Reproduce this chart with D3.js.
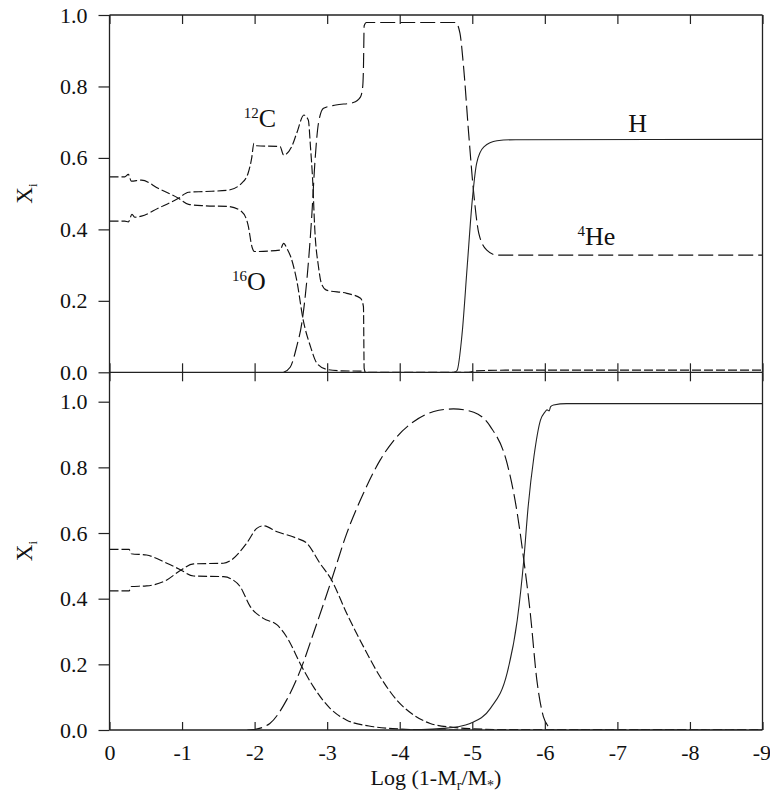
<!DOCTYPE html>
<html>
<head>
<meta charset="utf-8">
<script src="https://cdn.jsdelivr.net/npm/d3@7"></script>
<style>
  html, body { margin: 0; padding: 0; background: #fff; }
  svg { display: block; }
  text { font-family: "Liberation Serif", "Times New Roman", serif; fill: #111; }
</style>
</head>
<body>
<svg id="chart" width="770" height="797"></svg>
<script>
// ---------------- data (x = Log(1-Mr/M*), y = mass fraction X_i) ----------------
const xTicks = [0, -1, -2, -3, -4, -5, -6, -7, -8, -9];
const yTicks = [0, 0.2, 0.4, 0.6, 0.8, 1.0];

// Top panel
const topO = [[0,0.547],[-0.21,0.547],[-0.26,0.554],[-0.30,0.535],[-0.44,0.538],[-0.67,0.515],[-0.95,0.487],[-1.09,0.470],[-1.32,0.466],[-1.64,0.464],[-1.82,0.450],[-1.91,0.412],[-1.965,0.350],[-2.00,0.338],[-2.35,0.342],[-2.40,0.361],[-2.45,0.345],[-2.50,0.322],[-2.58,0.258],[-2.67,0.146],[-2.77,0.072],[-2.86,0.025],[-3.00,0.008],[-3.20,0.004],[-3.50,0.003],[-3.52,0]];
const topC = [[0,0.423],[-0.21,0.423],[-0.26,0.421],[-0.31,0.442],[-0.35,0.434],[-0.44,0.437],[-0.67,0.459],[-0.95,0.487],[-1.09,0.504],[-1.32,0.506],[-1.64,0.510],[-1.82,0.529],[-1.91,0.557],[-1.96,0.600],[-1.99,0.641],[-2.03,0.634],[-2.35,0.632],[-2.40,0.608],[-2.51,0.631],[-2.58,0.669],[-2.68,0.720],[-2.74,0.706],[-2.77,0.631],[-2.80,0.538],[-2.83,0.398],[-2.88,0.296],[-2.92,0.249],[-2.99,0.230],[-3.27,0.221],[-3.46,0.207],[-3.50,0.184],[-3.51,0.010],[-3.53,0],[-4.95,0],[-5.05,0.004],[-5.50,0.006],[-9,0.006]];
const topHe = [[-2.40,0],[-2.49,0.014],[-2.58,0.072],[-2.65,0.137],[-2.72,0.258],[-2.79,0.445],[-2.83,0.585],[-2.88,0.697],[-2.95,0.739],[-3.12,0.748],[-3.36,0.755],[-3.46,0.771],[-3.49,0.800],[-3.50,0.850],[-3.51,0.970],[-3.54,0.979],[-4.77,0.979],[-4.83,0.949],[-4.88,0.855],[-4.95,0.669],[-5.02,0.501],[-5.09,0.389],[-5.20,0.342],[-5.34,0.328],[-9,0.328]];
const topH = [[-4.75,0],[-4.79,0.005],[-4.86,0.109],[-4.93,0.296],[-5.00,0.482],[-5.06,0.585],[-5.16,0.631],[-5.34,0.648],[-5.60,0.651],[-9,0.652]];

// Bottom panel
const botO = [[0,0.550],[-0.27,0.550],[-0.30,0.537],[-0.51,0.533],[-0.79,0.508],[-0.97,0.489],[-1.16,0.469],[-1.57,0.467],[-1.68,0.460],[-1.80,0.437],[-1.94,0.376],[-2.12,0.340],[-2.31,0.320],[-2.44,0.284],[-2.65,0.193],[-2.81,0.132],[-3.04,0.066],[-3.27,0.030],[-3.64,0.010],[-4.00,0.003],[-4.50,0],[-9,0]];
const botC = [[0,0.424],[-0.27,0.424],[-0.30,0.437],[-0.51,0.439],[-0.79,0.457],[-0.97,0.485],[-1.16,0.506],[-1.57,0.508],[-1.66,0.515],[-1.89,0.569],[-2.03,0.614],[-2.12,0.622],[-2.31,0.604],[-2.58,0.584],[-2.72,0.569],[-2.90,0.508],[-3.06,0.457],[-3.27,0.355],[-3.50,0.254],[-3.73,0.162],[-3.96,0.091],[-4.19,0.046],[-4.42,0.020],[-4.74,0.008],[-5.00,0.004],[-5.50,0.001],[-9,0]];
const botHe = [[-1.90,0],[-1.98,0.001],[-2.21,0.020],[-2.44,0.091],[-2.65,0.193],[-2.81,0.294],[-3.06,0.457],[-3.27,0.599],[-3.50,0.721],[-3.73,0.822],[-3.96,0.893],[-4.19,0.939],[-4.47,0.970],[-4.74,0.978],[-5.02,0.968],[-5.25,0.924],[-5.48,0.812],[-5.62,0.660],[-5.71,0.518],[-5.80,0.355],[-5.89,0.152],[-5.98,0.041],[-6.05,0.010],[-6.10,0],[-9,0]];
const botH = [[-4.00,0],[-4.30,0.001],[-4.60,0.005],[-4.80,0.010],[-4.97,0.020],[-5.25,0.066],[-5.48,0.173],[-5.62,0.335],[-5.71,0.518],[-5.77,0.680],[-5.85,0.833],[-5.94,0.944],[-6.00,0.968],[-6.03,0.975],[-6.06,0.972],[-6.08,0.985],[-6.12,0.990],[-6.30,0.994],[-9,0.994]];

// Annotations in the top panel: [superscript, symbol, x, y]
const labels = [["12","C",-1.85,0.687],["16","O",-1.69,0.230],["","H",-7.15,0.673],["4","He",-6.45,0.356]];

// ---------------- drawing ----------------
const svg = d3.select("#chart");
const L = 109.5, R = 762.5;
const x = d3.scaleLinear().domain([0, -9]).range([L, R]);
const yTop = d3.scaleLinear().domain([0, 1]).range([372.3, 15]);
const yBot = d3.scaleLinear().domain([0, 1]).range([730, 401.7]);
const midY = 372.3, topY = 15, botY = 730;
const FONT = '"Liberation Serif", "Times New Roman", serif';

const defs = svg.append("defs");
defs.append("clipPath").attr("id","clipTop").append("rect").attr("x",L).attr("y",topY).attr("width",R-L).attr("height",midY-topY);
defs.append("clipPath").attr("id","clipBot").append("rect").attr("x",L).attr("y",midY).attr("width",R-L).attr("height",botY-midY);

const styles = {
  CO: {dash: "9,3", w: 1.15, c: "#111"},
  He: {dash: "15,5", w: 1.15, c: "#111"},
  H:  {dash: null, w: 1.1, c: "#222"}
};

function drawLine(data, y, st, clip) {
  const line = d3.line().x(d => x(d[0])).y(d => y(d[1])).curve(d3.curveMonotoneX);
  svg.append("path").attr("d", line(data)).attr("fill","none")
    .attr("stroke", st.c).attr("stroke-width", st.w)
    .attr("stroke-dasharray", st.dash)
    .attr("clip-path", `url(#${clip})`);
}

drawLine(topO, yTop, styles.CO, "clipTop");
drawLine(topC, yTop, styles.CO, "clipTop");
drawLine(topHe, yTop, styles.He, "clipTop");
drawLine(topH, yTop, styles.H, "clipTop");

drawLine(botO, yBot, styles.CO, "clipBot");
drawLine(botC, yBot, styles.CO, "clipBot");
drawLine(botHe, yBot, styles.He, "clipBot");
drawLine(botH, yBot, styles.H, "clipBot");

// axes
const axColor = "#222";
function styleAxis(g) {
  g.select(".domain").remove();
  g.selectAll("line").attr("stroke", axColor).attr("stroke-width", 1.2);
  g.selectAll("text").attr("font-size", 22).attr("fill", "#111").attr("font-family", FONT);
}
// x ticks (inward) on all horizontal frame lines
svg.append("g").attr("transform", `translate(0,${topY})`)
  .call(d3.axisTop(x).tickValues(xTicks).tickSize(-9).tickFormat("")).call(styleAxis);
svg.append("g").attr("transform", `translate(0,${midY})`)
  .call(d3.axisBottom(x).tickValues(xTicks).tickSize(-9).tickFormat("")).call(styleAxis);
svg.append("g").attr("transform", `translate(0,${midY})`)
  .call(d3.axisTop(x).tickValues(xTicks).tickSize(-9).tickFormat("")).call(styleAxis);
const xAxisG = svg.append("g").attr("transform", `translate(0,${botY})`)
  .call(d3.axisBottom(x).tickValues(xTicks).tickSize(-8).tickPadding(14).tickFormat(d => String(d))).call(styleAxis);
// keep the last label inside the window
xAxisG.selectAll(".tick text").filter(d => d === -9).attr("text-anchor", "end").attr("dx", 8);

// y ticks (outward)
const fmt = d3.format(".1f");
svg.append("g").attr("transform", `translate(${L},0)`)
  .call(d3.axisLeft(yTop).tickValues(yTicks).tickSize(11).tickPadding(11).tickFormat(fmt)).call(styleAxis);
svg.append("g").attr("transform", `translate(${L},0)`)
  .call(d3.axisLeft(yBot).tickValues(yTicks).tickSize(11).tickPadding(11).tickFormat(fmt)).call(styleAxis);

// frame
const frame = svg.append("g").attr("stroke", axColor).attr("stroke-width", 1.3).attr("fill", "none");
frame.append("line").attr("x1", L).attr("x2", R).attr("y1", topY).attr("y2", topY);
frame.append("line").attr("x1", L).attr("x2", R).attr("y1", midY).attr("y2", midY);
frame.append("line").attr("x1", L).attr("x2", R).attr("y1", botY).attr("y2", botY);
frame.append("line").attr("x1", L).attr("x2", L).attr("y1", topY).attr("y2", botY);
frame.append("line").attr("x1", R).attr("x2", R).attr("y1", topY).attr("y2", botY);

// y labels
function yLabel(cy) {
  const t = svg.append("text").attr("transform", `translate(32,${cy}) rotate(-90)`)
    .attr("text-anchor", "middle").attr("font-size", 23);
  t.append("tspan").text("X");
  t.append("tspan").attr("font-size", 13).attr("dy", 5).text("i");
}
yLabel(193.5);
yLabel(551);

// x title
const xt = svg.append("text").attr("x", (L + R) / 2).attr("y", 785)
  .attr("text-anchor", "middle").attr("font-size", 22);
xt.append("tspan").text("Log (1-M");
xt.append("tspan").attr("font-size", 14).attr("dy", 5).text("r");
xt.append("tspan").attr("dy", -5).text("/M");
xt.append("tspan").attr("font-size", 14).attr("dy", 5).text("*");
xt.append("tspan").attr("dy", -5).text(")");

// element annotations
labels.forEach(([sup, sym, lx, ly]) => {
  const t = svg.append("text").attr("x", x(lx)).attr("y", yTop(ly)).attr("font-size", 26);
  if (sup) {
    t.append("tspan").attr("font-size", 15).attr("dy", -9).text(sup);
    t.append("tspan").attr("dy", 9).text(sym);
  } else {
    t.append("tspan").text(sym);
  }
});
</script>
</body>
</html>
